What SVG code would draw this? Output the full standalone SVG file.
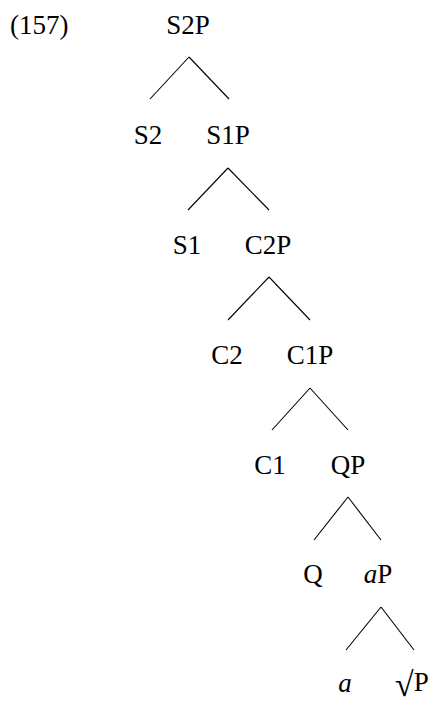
<svg xmlns="http://www.w3.org/2000/svg" width="438" height="707" viewBox="0 0 438 707">
<style>
text{font-family:"Liberation Serif","Times New Roman",serif;font-size:27px;fill:#000;text-anchor:middle}
.lbl{text-anchor:start}
.it{font-style:italic}
.rad{font-size:34px}
line{stroke:#000;stroke-width:1.1;fill:none}
</style>
<rect width="438" height="707" fill="#fff"/>
<text class="lbl" x="10" y="34">(157)</text>
<g id="connectors">
<line x1="189" y1="57" x2="150" y2="99"/>
<line x1="189" y1="57" x2="229" y2="99"/>
<line x1="228" y1="168" x2="188" y2="210"/>
<line x1="228" y1="168" x2="269" y2="210"/>
<line x1="269" y1="277" x2="228" y2="320"/>
<line x1="269" y1="277" x2="310" y2="320"/>
<line x1="310" y1="388" x2="272" y2="430"/>
<line x1="310" y1="388" x2="348" y2="430"/>
<line x1="348" y1="497" x2="314" y2="540"/>
<line x1="348" y1="497" x2="381" y2="540"/>
<line x1="381" y1="607" x2="346" y2="650"/>
<line x1="381" y1="607" x2="414" y2="650"/>
</g>
<g id="S2P"><text x="188" y="34">S2P</text></g>
<g id="S2"><text x="148" y="144">S2</text></g>
<g id="S1P"><text x="228" y="144">S1P</text></g>
<g id="S1"><text x="187" y="254">S1</text></g>
<g id="C2P"><text x="268" y="254">C2P</text></g>
<g id="C2"><text x="227" y="364">C2</text></g>
<g id="C1P"><text x="310" y="364">C1P</text></g>
<g id="C1"><text x="270" y="474">C1</text></g>
<g id="QP"><text x="348" y="474">QP</text></g>
<g id="Q"><text x="313" y="583">Q</text></g>
<g id="aP"><text x="378" y="583"><tspan class="it">a</tspan>P</text></g>
<g id="a"><text class="it" x="345" y="692">a</text></g>
<g id="rootP"><text class="lbl" x="395" y="691"><tspan class="rad" dy="5">√</tspan><tspan dy="-5">P</tspan></text></g>
</svg>
